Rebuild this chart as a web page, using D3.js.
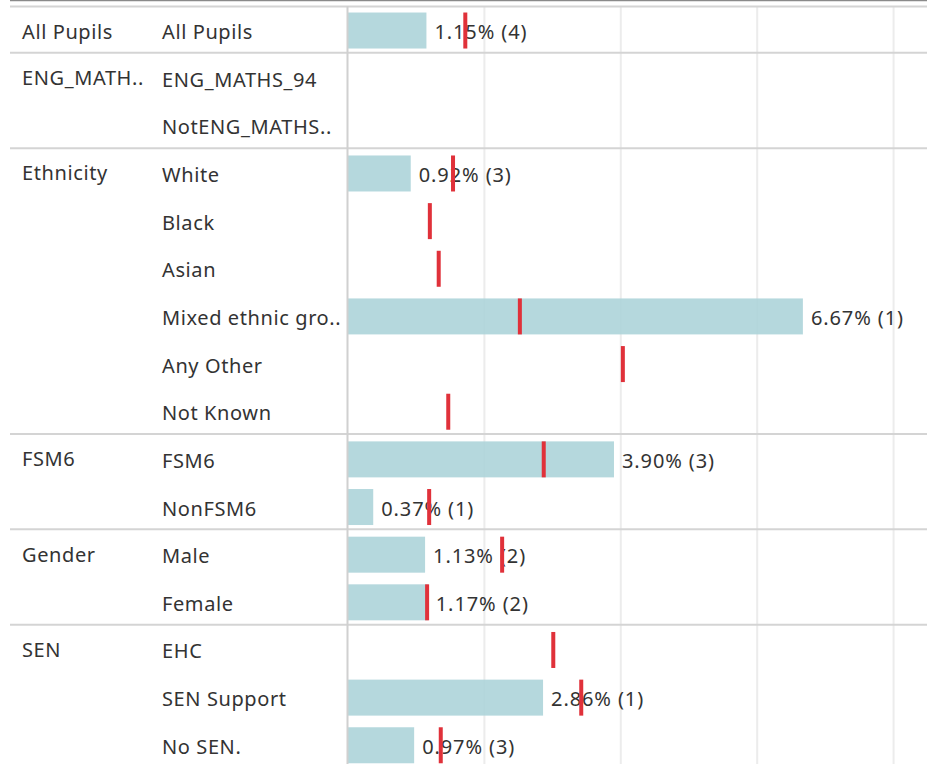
<!DOCTYPE html>
<html>
<head>
<meta charset="utf-8">
<script src="https://cdn.jsdelivr.net/npm/d3@7"></script>
<style>
  html, body { margin: 0; padding: 0; background: #fff; }
  svg { display: block; }
  text { font-family: "Noto Sans", sans-serif; fill: #333; }
</style>
</head>
<body>
<svg id="chart" width="927" height="764"></svg>
<script>
// ---- data ----
const groupLabels = ["All Pupils", "ENG_MATH..", "", "Ethnicity", "", "", "", "", "", "FSM6", "", "Gender", "", "SEN", "", ""];
const subLabels = ["All Pupils", "ENG_MATHS_94", "NotENG_MATHS..", "White", "Black", "Asian", "Mixed ethnic gro..", "Any Other", "Not Known", "FSM6", "NonFSM6", "Male", "Female", "EHC", "SEN Support", "No SEN."];
const rates = [1.15, null, null, 0.92, null, null, 6.67, null, null, 3.90, 0.37, 1.13, 1.17, null, 2.86, 0.97];
const counts = [4, null, null, 3, null, null, 1, null, null, 3, 1, 2, 2, null, 1, 3];
const refValues = [1.72, null, null, 1.54, 1.20, 1.33, 2.52, 4.03, 1.47, 2.87, 1.19, 2.26, 1.16, 3.01, 3.42, 1.36];
const gridTicks = [2, 4, 6, 8];

// ---- layout ----
const W = 927, H = 764;
const rowTop = 6.7, rowStep = 47.65, barH = 36, refW = 4;
const svg = d3.select("#chart");

const rows = subLabels.map((s, i) => ({
  i, group: groupLabels[i], sub: s, rate: rates[i], count: counts[i], ref: refValues[i]
}));

const x = d3.scaleLinear().domain([0, 8]).range([348, 893.6]);
const y = d3.scaleBand().domain(rows.map(d => d.i)).range([rowTop, rowTop + rowStep * rows.length]).padding(0);
const cy = i => y(i) + y.bandwidth() / 2;

// gridlines
svg.append("g").selectAll("line").data(gridTicks).join("line")
  .attr("x1", d => x(d)).attr("x2", d => x(d))
  .attr("y1", 7).attr("y2", H)
  .attr("stroke", "#ececec").attr("stroke-width", 2);

// bars
svg.append("g").selectAll("rect").data(rows.filter(d => d.rate != null)).join("rect")
  .attr("x", x(0))
  .attr("y", d => cy(d.i) - barH / 2)
  .attr("width", d => x(d.rate) - x(0))
  .attr("height", barH)
  .attr("fill", "#add4d9")
  .attr("fill-opacity", 0.9);

// value labels
svg.append("g").selectAll("text").data(rows.filter(d => d.rate != null)).join("text")
  .attr("x", d => x(d.rate) + 8)
  .attr("y", d => cy(d.i) + 1.5)
  .attr("dy", "0.35em")
  .attr("font-size", 20)
  .attr("letter-spacing", 0.9)
  .text(d => d.rate.toFixed(2) + "% (" + d.count + ")");

// reference marks
svg.append("g").selectAll("rect").data(rows.filter(d => d.ref != null)).join("rect")
  .attr("x", d => x(d.ref) - refW / 2)
  .attr("y", d => cy(d.i) - barH / 2)
  .attr("width", refW)
  .attr("height", barH)
  .attr("fill", "#e0313a");

// separators between groups
const sepRows = rows.filter(d => d.group !== "" && d.i > 0).map(d => d.i);
svg.append("g").selectAll("line").data(sepRows).join("line")
  .attr("x1", 10).attr("x2", W)
  .attr("y1", d => y(d) - 1.5).attr("y2", d => y(d) - 1.5)
  .attr("stroke", "#d4d4d4").attr("stroke-width", 2);

// top lines
svg.append("line").attr("x1", 10).attr("x2", W).attr("y1", 0.5).attr("y2", 0.5)
  .attr("stroke", "#8a8a8a").attr("stroke-width", 1.5);
svg.append("line").attr("x1", 10).attr("x2", W).attr("y1", 6.5).attr("y2", 6.5)
  .attr("stroke", "#d4d4d4").attr("stroke-width", 2);

// axis line (zero line of chart pane)
svg.append("line").attr("x1", 347.5).attr("x2", 347.5).attr("y1", 6).attr("y2", H)
  .attr("stroke", "#d0d0d0").attr("stroke-width", 2);

// row headers
svg.append("g").selectAll("text").data(rows.filter(d => d.group !== "")).join("text")
  .attr("x", 22)
  .attr("y", d => cy(d.i) + (d.i === 0 ? 1.5 : 0))
  .attr("dy", "0.35em")
  .attr("font-size", 20)
  .attr("letter-spacing", 0.6)
  .text(d => d.group);

svg.append("g").selectAll("text").data(rows).join("text")
  .attr("x", 162)
  .attr("y", d => cy(d.i) + 1.5)
  .attr("dy", "0.35em")
  .attr("font-size", 20)
  .attr("letter-spacing", 0.6)
  .text(d => d.sub);
</script>
</body>
</html>
